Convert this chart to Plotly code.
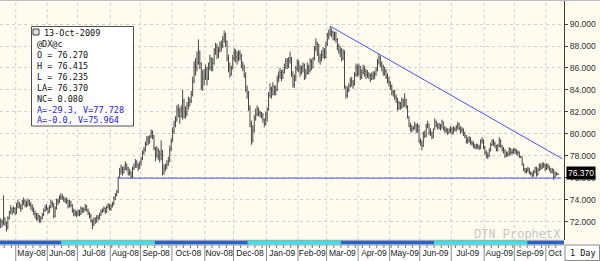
import pandas as pd
import plotly.graph_objects as go

# ---------------- data ----------------
start_date = "2008-04-16"
first_open = 71.6

close = [
    72.0, 71.8, 72.3, 71.9, 71.4, 72.3, 72.8, 73.2, 72.9, 73.2, 72.8,  # Apr-08
    73.5, 73.7, 73.4, 73.2, 73.8, 73.9, 73.5, 73.6, 73.9, 73.6, 73.4, 73.1, 72.8, 72.6, 72.3, 72.5, 72.1, 72.3, 72.6, 73.0, 73.3, 73.2,  # May-08
    72.9, 73.3, 73.7, 73.6, 72.5, 73.2, 73.9, 73.8, 74.2, 74.3, 74.2, 74.0, 73.9, 73.9, 73.4, 73.8, 73.5, 73.0, 72.7, 72.8, 72.7,  # Jun-08
    72.9, 72.7, 73.2, 73.0, 73.1, 73.4, 73.0, 72.7, 72.5, 72.1, 71.7, 72.2, 72.0, 72.4, 72.3, 72.6, 72.9, 73.0, 73.2, 72.9, 73.3, 73.5, 73.2,  # Jul-08
    73.4, 73.6, 74.1, 74.4, 74.7, 76.0, 76.6, 76.9, 76.5, 76.8, 77.2, 76.9, 76.4, 76.5, 76.1, 76.8, 77.0, 77.4, 77.2, 76.9, 77.3,  # Aug-08
    77.7, 78.3, 78.5, 79.0, 79.5, 79.3, 79.7, 80.1, 79.8, 78.7, 78.1, 78.5, 77.9, 78.1, 78.5, 76.4, 76.8, 77.0, 77.2, 77.6, 78.6, 79.3,  # Sep-08
    80.2, 80.9, 81.3, 82.2, 82.0, 81.6, 82.2, 83.0, 82.0, 81.9, 82.6, 82.9, 83.0, 83.6, 84.8, 86.2, 86.0, 86.5, 87.3, 86.4, 84.3, 85.0, 85.2,  # Oct-08
    85.9, 85.0, 86.0, 86.8, 86.1, 86.4, 87.6, 87.9, 87.2, 87.6, 88.1, 88.0, 88.6, 89.0, 88.4, 86.9, 86.0, 85.4, 85.9, 86.9,  # Nov-08
    87.4, 87.0, 86.9, 87.3, 87.1, 86.2, 86.0, 85.3, 84.0, 83.7, 82.3, 80.9, 79.4, 80.3, 81.4, 81.8, 82.2, 81.9, 81.9, 81.7, 81.3, 80.9, 81.7,  # Dec-08
    82.2, 83.5, 84.1, 83.6, 84.3, 83.8, 84.0, 85.0, 85.3, 85.6, 85.1, 85.6, 86.0, 86.6, 86.2, 86.7, 86.9, 85.4, 84.5, 84.9, 85.9, 86.4,  # Jan-09
    86.0, 85.6, 85.9, 86.2, 85.3, 85.5, 86.1, 85.8, 86.6, 86.0, 86.8, 87.8, 88.2, 87.3, 86.9, 86.8, 87.2, 87.6, 87.0, 88.2,  # Feb-09
    88.8, 89.1, 89.3, 89.2, 88.7, 89.0, 88.6, 88.0, 87.5, 87.6, 86.9, 87.4, 84.3, 83.5, 83.9, 84.4, 84.8, 84.7, 84.5, 85.4, 86.0, 85.5,  # Mar-09
    86.1, 85.2, 85.6, 85.9, 85.7, 85.4, 85.5, 85.3, 85.0, 85.3, 85.2, 85.4, 85.8, 86.6, 86.9, 86.4, 86.1, 85.6, 85.7, 85.2, 84.8, 84.7,  # Apr-09
    84.3, 83.8, 83.8, 83.4, 83.2, 82.3, 82.8, 82.4, 83.1, 82.6, 83.0, 82.5, 81.5, 80.7, 80.5, 80.4, 80.5, 80.8, 80.3, 80.7, 79.3,  # May-09
    79.2, 78.9, 80.0, 79.8, 80.7, 80.9, 80.0, 80.1, 79.7, 80.4, 81.1, 80.8, 80.6, 80.8, 80.5, 81.1, 80.5, 80.3, 80.4, 80.1, 80.3, 80.4,  # Jun-09
    80.1, 80.5, 80.4, 80.6, 80.9, 80.5, 80.3, 80.4, 80.0, 79.8, 79.3, 79.4, 79.5, 79.2, 79.1, 78.9, 78.8, 78.9, 78.8, 78.7, 79.3, 79.4, 78.8,  # Jul-09
    78.3, 78.0, 78.0, 78.5, 79.0, 79.3, 79.1, 78.9, 78.6, 78.9, 79.4, 78.9, 78.6, 78.5, 78.0, 78.2, 78.1, 78.6, 78.3, 78.3, 78.5,  # Aug-09
    78.5, 78.3, 78.3, 77.9, 77.9, 77.2, 76.8, 76.6, 76.7, 76.8, 76.5, 76.4, 76.2, 76.5, 76.9, 76.3, 76.7, 77.1, 76.9, 77.1, 77.2, 76.8,  # Sep-09
    77.1, 77.0, 76.8, 76.5, 76.7, 76.1, 76.4, 76.29, 76.37,  # Oct-09
]

high = [
    72.3, 72.2, 74.4, 72.4, 72.0, 72.5, 73.0, 73.5, 73.3, 73.4, 73.3,
    73.7, 74.0, 73.8, 73.6, 74.0, 74.2, 74.0, 73.9, 74.1, 74.0, 73.8, 73.6, 73.3, 73.0, 72.8, 72.8, 72.6, 72.5, 72.8, 73.2, 73.5, 73.6,
    73.3, 73.5, 74.0, 73.9, 73.7, 73.4, 74.1, 74.1, 74.4, 74.6, 74.5, 74.3, 74.2, 74.2, 74.0, 74.0, 73.9, 73.6, 73.2, 73.1, 73.0,
    73.1, 73.1, 73.4, 73.3, 73.3, 73.6, 73.5, 73.2, 72.9, 72.7, 72.2, 72.4, 72.4, 72.6, 72.6, 72.8, 73.1, 73.2, 73.4, 73.3, 73.5, 73.7, 73.6,
    73.6, 73.8, 74.3, 74.6, 74.9, 76.1, 76.9, 77.2, 77.0, 77.1, 77.5, 77.3, 77.0, 76.8, 76.6, 77.0, 77.3, 77.7, 77.6, 77.3, 77.5,
    77.9, 78.5, 78.8, 79.3, 79.8, 79.8, 79.9, 80.4, 80.3, 79.9, 78.8, 78.9, 78.7, 78.5, 79.4, 78.5, 77.2, 77.3, 77.6, 77.9, 78.9, 79.6,
    80.6, 81.2, 81.6, 82.6, 82.7, 82.4, 82.6, 84.0, 83.2, 82.5, 82.9, 83.4, 83.3, 83.9, 85.2, 86.6, 86.9, 87.5, 88.6, 87.6, 86.5, 85.8, 85.9,
    86.3, 86.1, 86.5, 87.2, 87.0, 86.9, 87.8, 88.3, 88.2, 87.9, 88.4, 88.5, 88.9, 89.4, 89.2, 88.5, 87.2, 86.5, 86.2, 87.2,
    87.8, 87.7, 87.5, 87.6, 87.6, 87.3, 86.6, 86.3, 85.6, 84.4, 83.9, 82.6, 81.2, 80.8, 81.7, 82.3, 82.6, 82.4, 82.1, 82.0, 81.9, 81.4, 82.0,
    82.4, 83.8, 84.6, 84.3, 84.7, 84.4, 84.4, 85.3, 85.7, 86.0, 85.8, 85.9, 86.4, 86.9, 86.9, 87.0, 87.5, 87.0, 85.7, 85.4, 86.2, 86.8,
    86.7, 86.3, 86.2, 86.5, 86.4, 85.9, 86.5, 86.3, 86.9, 86.8, 87.0, 88.0, 88.7, 88.4, 88.2, 87.3, 87.6, 87.9, 87.8, 88.4,
    89.2, 89.5, 89.8, 89.6, 89.4, 89.3, 89.3, 88.7, 88.2, 88.0, 87.8, 87.7, 87.6, 84.4, 84.3, 84.6, 85.1, 85.2, 84.9, 85.6, 86.4, 86.3,
    86.4, 86.2, 85.9, 86.3, 86.2, 85.9, 85.8, 85.6, 85.5, 85.6, 85.7, 85.7, 86.1, 86.8, 87.3, 87.1, 86.6, 86.3, 86.1, 85.9, 85.5, 85.2,
    84.8, 84.5, 84.0, 84.0, 83.6, 83.3, 83.0, 82.9, 83.3, 83.2, 83.7, 83.2, 82.6, 81.6, 81.0, 80.8, 80.7, 81.1, 80.9, 81.0, 80.8,
    79.6, 79.4, 80.2, 80.3, 80.9, 81.2, 80.9, 80.5, 80.2, 80.5, 81.4, 81.2, 81.0, 81.0, 80.9, 81.3, 81.1, 80.7, 80.6, 80.5, 80.5, 80.7,
    80.6, 80.7, 80.6, 80.8, 81.1, 81.0, 80.7, 80.6, 80.5, 80.2, 79.9, 79.7, 79.8, 79.7, 79.4, 79.3, 79.1, 79.1, 79.1, 79.0, 79.5, 79.7, 79.5,
    78.9, 78.5, 78.3, 78.7, 79.2, 79.5, 79.5, 79.3, 79.0, 79.1, 79.7, 79.5, 79.0, 78.8, 78.6, 78.4, 78.4, 78.8, 78.7, 78.6, 78.7,
    78.7, 78.6, 78.5, 78.4, 78.0, 77.9, 77.3, 76.9, 76.9, 77.0, 76.9, 76.6, 76.5, 76.7, 77.0, 77.0, 76.9, 77.3, 77.3, 77.4, 77.4, 77.3,
    77.3, 77.3, 77.1, 76.9, 76.9, 76.8, 76.6, 76.5, 76.415,
]

low = [
    71.4, 71.5, 71.7, 71.6, 71.1, 71.3, 72.2, 72.7, 72.6, 72.8, 72.6,
    72.7, 73.2, 73.2, 72.9, 73.1, 73.5, 73.3, 73.3, 73.4, 73.4, 73.1, 72.9, 72.6, 72.3, 72.1, 72.1, 71.9, 71.9, 72.2, 72.5, 72.9, 73.0,
    72.7, 72.8, 73.2, 73.3, 72.3, 72.4, 73.1, 73.5, 73.7, 74.0, 74.0, 73.8, 73.7, 73.6, 73.2, 73.3, 73.3, 72.8, 72.5, 72.5, 72.4,
    72.5, 72.5, 72.6, 72.8, 72.8, 73.0, 72.9, 72.6, 72.3, 71.9, 71.3, 71.6, 71.8, 71.9, 72.1, 72.2, 72.5, 72.8, 72.9, 72.7, 72.8, 73.2, 73.0,
    73.0, 73.3, 73.5, 74.0, 74.3, 74.6, 76.0, 76.3, 76.2, 76.4, 76.7, 76.6, 76.2, 76.2, 75.9, 76.0, 76.7, 76.9, 76.9, 76.6, 76.8,
    77.1, 77.6, 78.1, 78.4, 78.9, 79.0, 79.1, 79.6, 79.5, 78.5, 77.5, 77.8, 77.6, 77.4, 77.6, 76.2, 76.3, 76.6, 76.8, 77.1, 77.4, 78.4,
    79.5, 80.0, 80.6, 81.1, 81.5, 80.9, 81.5, 81.3, 81.4, 81.4, 81.6, 82.2, 82.5, 82.8, 83.4, 84.6, 85.3, 85.7, 86.3, 85.9, 84.0, 83.9, 84.4,
    84.9, 84.4, 84.9, 85.8, 85.7, 85.7, 86.3, 87.2, 86.8, 86.9, 87.4, 87.5, 87.8, 88.3, 87.9, 86.6, 85.6, 85.1, 85.3, 85.9,
    86.6, 86.5, 86.3, 86.6, 86.7, 86.0, 85.7, 85.1, 83.8, 83.2, 82.1, 80.6, 79.0, 79.2, 80.1, 81.2, 81.6, 81.6, 81.5, 81.4, 81.0, 80.6, 80.8,
    81.1, 82.1, 83.3, 83.2, 83.5, 83.5, 83.5, 83.9, 84.7, 85.0, 84.8, 85.0, 85.5, 85.9, 85.9, 86.0, 86.4, 85.2, 84.2, 84.2, 84.8, 85.7,
    85.6, 85.2, 85.4, 85.6, 84.9, 85.0, 85.4, 85.4, 85.6, 85.8, 86.0, 86.7, 87.5, 87.1, 86.5, 86.3, 86.6, 86.9, 86.8, 86.9,
    88.0, 88.6, 88.9, 88.8, 88.5, 88.5, 88.3, 87.6, 87.3, 87.0, 86.6, 86.7, 84.1, 83.2, 83.3, 83.8, 84.2, 84.3, 84.1, 84.4, 85.2, 85.2,
    85.3, 84.9, 85.0, 85.4, 85.2, 85.0, 85.1, 85.0, 84.7, 84.9, 84.9, 85.0, 85.3, 85.7, 86.3, 86.1, 85.7, 85.3, 85.3, 85.0, 84.6, 84.3,
    84.0, 83.5, 83.4, 83.1, 82.8, 82.1, 82.2, 82.2, 82.3, 82.4, 82.5, 82.3, 81.4, 80.6, 80.2, 80.1, 80.3, 80.4, 80.1, 80.1, 79.2,
    78.9, 78.5, 78.8, 79.6, 79.7, 80.5, 79.9, 79.8, 79.5, 79.6, 80.4, 80.6, 80.4, 80.4, 80.3, 80.5, 80.3, 80.1, 80.1, 79.9, 80.0, 80.1,
    79.9, 80.0, 80.2, 80.2, 80.4, 80.3, 80.0, 80.1, 79.8, 79.6, 79.1, 79.1, 79.2, 79.0, 78.9, 78.7, 78.6, 78.6, 78.6, 78.5, 78.6, 79.1, 78.6,
    78.1, 77.8, 77.7, 77.9, 78.4, 78.9, 78.9, 78.7, 78.4, 78.4, 78.8, 78.7, 78.4, 78.2, 77.8, 77.9, 77.9, 78.0, 78.1, 78.1, 78.2,
    78.2, 78.1, 78.0, 77.8, 77.8, 77.1, 76.6, 76.4, 76.4, 76.5, 76.3, 76.2, 76.0, 76.1, 76.4, 76.1, 76.2, 76.6, 76.7, 76.8, 76.9, 76.6,
    76.7, 76.8, 76.6, 76.4, 76.4, 75.8, 76.0, 76.2, 76.235,
]

month_labels = ["May-08", "Jun-08", "Jul-08", "Aug-08", "Sep-08", "Oct-08", "Nov-08", "Dec-08", "Jan-09",
                "Feb-09", "Mar-09", "Apr-09", "May-09", "Jun-09", "Jul-09", "Aug-09", "Sep-09", "Oct"]
price_ticks = [72, 74, 76, 78, 80, 82, 84, 86, 88, 90]
roll_dates = ["2008-06-16", "2008-09-15", "2008-12-15", "2009-03-16", "2009-06-15", "2009-09-14"]
trend_dates = ["2009-03-04", "2009-10-16"]
trend_values = [89.80, 77.728]
support_dates = ["2008-08-08", "2009-10-15"]
support_values = [75.964, 75.964]
last_price = 76.370
info_lines = ["13-Oct-2009", "@DX@c", "O = 76.270", "H = 76.415", "L = 76.235",
              "LA= 76.370", "NC= 0.080", "A=-29.3, V=77.728", "A=-0.0, V=75.964"]

# ---------------- layout helpers ----------------
W, H = 600, 261
PLOT_R, PLOT_B = 564, 240
CREAM = "#FFFCEF"
BLUE_LINE = "#4455F0"
BAR = "#454545"
MONO = "DejaVu Sans Mono"
SANS = "Liberation Sans"


def fx(px):
    return px / W


def fy(py):
    return 1 - py / H


n = len(close)
assert len(high) == n and len(low) == n, (n, len(high), len(low))
dates = pd.bdate_range(start_date, periods=n + 8)
pos = {d.strftime("%Y-%m-%d"): i for i, d in enumerate(dates)}
xs = list(range(n))
opens = [first_open] + close[:-1]
hi = [max(h, o, c) for h, o, c in zip(high, opens, close)]
lo = [min(l, o, c) for l, o, c in zip(low, opens, close)]

x_lo, x_hi = -0.49, 393.2

bounds = [i for i in range(1, n) if dates[i].month != dates[i - 1].month]
edges = [b - 0.5 for b in bounds] + [x_hi]
label_pos = [(edges[k] + edges[k + 1]) / 2 for k in range(len(bounds))]
mondays = [i - 0.5 for i in range(1, n) if dates[i].weekday() == 0]

fig = go.Figure()
fig.add_trace(go.Ohlc(
    x=xs, open=opens, high=hi, low=lo, close=close,
    increasing=dict(line=dict(color=BAR, width=1)),
    decreasing=dict(line=dict(color=BAR, width=1)),
    tickwidth=0.35, hoverinfo="skip", showlegend=False,
))
fig.add_trace(go.Scatter(x=[pos[d] for d in trend_dates], y=trend_values, mode="lines",
                         line=dict(color=BLUE_LINE, width=1), hoverinfo="skip", showlegend=False))
fig.add_trace(go.Scatter(x=[pos[d] for d in support_dates], y=support_values, mode="lines",
                         line=dict(color=BLUE_LINE, width=1), hoverinfo="skip", showlegend=False))

shapes = []
# white date strip background
shapes.append(dict(type="rect", xref="paper", yref="paper", x0=0, x1=1, y0=0, y1=fy(245),
                   fillcolor="white", line=dict(width=0), layer="below"))
# month grid lines and separators
for b in bounds:
    shapes.append(dict(type="line", xref="x", yref="paper", x0=b - 0.5, x1=b - 0.5, y0=fy(PLOT_B), y1=1,
                       line=dict(color="#CFCFCF", width=1, dash="dot"), layer="below"))
    shapes.append(dict(type="line", xref="x", yref="paper", x0=b - 0.5, x1=b - 0.5, y0=0, y1=fy(245),
                       line=dict(color="#8C8C8C", width=1), layer="above"))
for m in mondays:
    shapes.append(dict(type="line", xref="x", yref="paper", x0=m, x1=m, y0=fy(248), y1=fy(245),
                       line=dict(color="#707070", width=1), layer="above"))
# contract strip
roll_x = [x_lo] + [pos[d] - 0.5 for d in roll_dates] + [x_hi]
for k in range(len(roll_x) - 1):
    shapes.append(dict(type="rect", xref="x", yref="paper", x0=roll_x[k], x1=roll_x[k + 1],
                       y0=fy(244.5), y1=fy(240.8),
                       fillcolor="#2462D0" if k % 2 == 0 else "#30E4E8", line=dict(width=0), layer="above"))
# pane border lines
shapes.append(dict(type="line", xref="paper", yref="paper", x0=0, x1=fx(PLOT_R), y0=fy(240.3), y1=fy(240.3),
                   line=dict(color="#9A9A9A", width=1), layer="above"))
shapes.append(dict(type="line", xref="paper", yref="paper", x0=0, x1=fx(PLOT_R), y0=fy(245), y1=fy(245),
                   line=dict(color="#9A9A9A", width=1), layer="above"))
shapes.append(dict(type="line", xref="paper", yref="paper", x0=0, x1=1, y0=fy(0.5), y1=fy(0.5),
                   line=dict(color="#BDBDBD", width=1), layer="above"))
# info box
shapes.append(dict(type="rect", xref="paper", yref="paper", x0=fx(31.5), x1=fx(133.5), y0=fy(126), y1=fy(26.5),
                   fillcolor="white", line=dict(color="#505050", width=1), layer="above"))
shapes.append(dict(type="rect", xref="paper", yref="paper", x0=fx(33), x1=fx(39), y0=fy(35), y1=fy(29),
                   fillcolor="#E0E0E0", line=dict(color="#404040", width=1), layer="above"))
# "1 Day" box
shapes.append(dict(type="rect", xref="paper", yref="paper", x0=fx(565), x1=fx(599.5), y0=fy(260.5), y1=fy(245),
                   fillcolor="white", line=dict(color="#8C8C8C", width=1), layer="above"))

annotations = []
line_y = [32.7, 44, 55, 66, 77, 88, 98.5, 109.5, 120.3]
for k, (t, yy) in enumerate(zip(info_lines, line_y)):
    annotations.append(dict(xref="paper", yref="paper", x=fx(41.5 if k == 0 else 35), y=fy(yy),
                            xanchor="left", yanchor="middle", text=t, showarrow=False,
                            font=dict(family=MONO, size=8.5, color="#2020E8" if k >= 7 else "#111111")))
annotations.append(dict(xref="paper", yref="y", x=fx(565.5), y=last_price + 0.05, xanchor="left", yanchor="middle",
                        text=f"{last_price:.3f}", showarrow=False, bgcolor="black", borderpad=1,
                        font=dict(family=SANS, size=8.5, color="white")))
annotations.append(dict(xref="paper", yref="paper", x=fx(562), y=fy(235), xanchor="right", yanchor="middle",
                        text="DTN ProphetX", showarrow=False,
                        font=dict(family="Liberation Mono", size=12, color="#C4C4C4")))
annotations.append(dict(xref="paper", yref="paper", x=fx(582.5), y=fy(252.8), xanchor="center", yanchor="middle",
                        text="1 Day", showarrow=False, font=dict(family=MONO, size=8.5, color="#111111")))

fig.update_layout(
    width=W, height=H, margin=dict(l=0, r=0, t=0, b=0),
    paper_bgcolor=CREAM, plot_bgcolor=CREAM, showlegend=False,
    xaxis=dict(domain=[0, PLOT_R / W], range=[x_lo, x_hi], anchor="free", position=fy(246),
               tickmode="array", tickvals=label_pos, ticktext=month_labels, ticks="",
               showgrid=False, zeroline=False, showline=False, rangeslider=dict(visible=False),
               tickfont=dict(family=SANS, size=8.5, color="#202020"), fixedrange=True),
    yaxis=dict(domain=[1 - PLOT_B / H, 1], range=[70.33, 92.19], side="right", anchor="x",
               tickmode="array", tickvals=price_ticks, tickformat=".3f", ticks="outside", ticklen=3,
               tickcolor="#404040", showline=True, linecolor="#404040", linewidth=1,
               showgrid=True, gridcolor="#CFCFCF", griddash="dot", gridwidth=1, zeroline=False,
               tickfont=dict(family=SANS, size=8.5, color="#303030"), fixedrange=True),
    shapes=shapes, annotations=annotations,
)

fig.write_html("out.html")
